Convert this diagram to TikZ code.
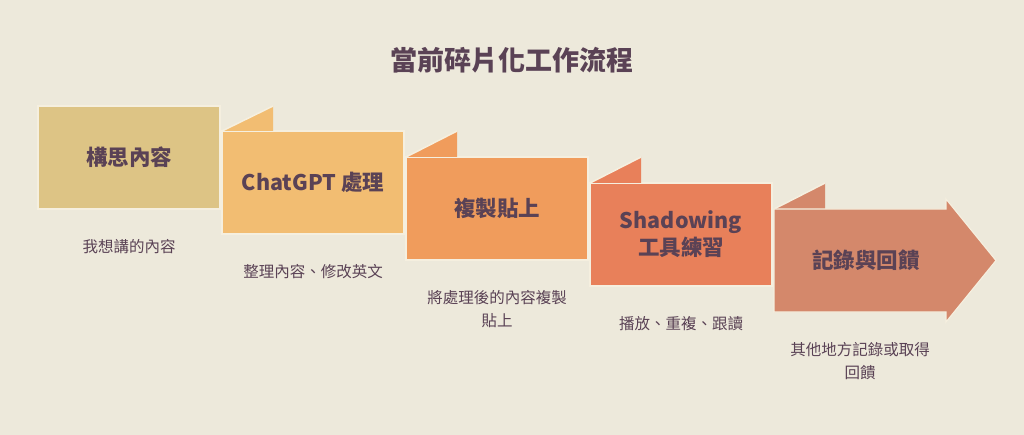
\documentclass[tikz,border=0pt]{standalone}
\usepackage{fontspec}
\setmainfont{Noto Sans CJK TC}
\usetikzlibrary{positioning}
\definecolor{bgcol}{HTML}{EDE9DB}
\definecolor{ink}{HTML}{5A4255}
\definecolor{edgecol}{HTML}{F5EFDF}
\definecolor{cidea}{HTML}{DDC485}
\definecolor{cgpt}{HTML}{F2BD72}
\definecolor{ccopy}{HTML}{F09C5C}
\definecolor{cshadow}{HTML}{E8805A}
\definecolor{crecord}{HTML}{D4886B}

\begin{document}
\begin{tikzpicture}[x=1pt, y=1pt, node distance=30pt,
    stepbox/.style={minimum width=182pt, minimum height=103pt, inner sep=0pt, outer sep=0pt, draw=edgecol, line width=1.2pt,
        font=\bfseries\fontsize{21.5}{27}\selectfont, text=ink, align=center},
    flapline/.style={draw=edgecol, line width=1.6pt},
    note/.style={inner sep=0pt, font=\fontsize{15.5}{23}\selectfont, text=ink, align=center}]
    \fill[bgcol] (0,0) rectangle (1024,-435);
    \useasboundingbox (0,0) rectangle (1024,-435);

    \node (title) [font=\bfseries\fontsize{27}{30}\selectfont, text=ink] at (512,-60) {當前碎片化工作流程};

    \node (idea) [stepbox, fill=cidea, anchor=north west] at (38,-106) {構思內容};
    \node (gpt) [stepbox, fill=cgpt, below right=25pt and 2pt of idea.north east] {ChatGPT 處理};
    \node (copy) [stepbox, fill=ccopy, below right=26pt and 2pt of gpt.north east] {複製貼上};
    \node (shadow) [stepbox, fill=cshadow, below right=26pt and 2pt of copy.north east] {Shadowing\\工具練習};
    \node (record) [stepbox, draw=none, minimum width=172pt, below right=26pt and 2pt of shadow.north east] {};

    \fill[cgpt] (gpt.north west) -- ++(51,25) -- ++(0,-25) -- cycle;
    \draw[flapline] (gpt.north west) -- ++(51,25);
    \fill[ccopy] (copy.north west) -- ++(51,26) -- ++(0,-26) -- cycle;
    \draw[flapline] (copy.north west) -- ++(51,26);
    \fill[cshadow] (shadow.north west) -- ++(51,26) -- ++(0,-26) -- cycle;
    \draw[flapline] (shadow.north west) -- ++(51,26);
    \fill[crecord] (record.north west) -- ++(51,26) -- ++(0,-26) -- cycle;
    \draw[flapline] (record.north west) -- ++(51,26);

    \draw[fill=crecord, draw=edgecol, line width=1.2pt] (record.north west) -- (record.north east) -- ++(0,10)
        -- ++(50,-61.5) -- ++(-50,-61.5) -- (record.south east) -- (record.south west) -- cycle;
    \node (recordtext) [font=\bfseries\fontsize{21.5}{27}\selectfont, text=ink] at ([xshift=6pt]record.center) {記錄與回饋};

    \node (ideanote) [note, below=30pt of idea] {我想講的內容};
    \node (gptnote) [note, below=30pt of gpt] {整理內容、修改英文};
    \node (copynote) [note, below=30pt of copy] {將處理後的內容複製\\貼上};
    \node (shadownote) [note, below=30pt of shadow] {播放、重複、跟讀};
    \node (recordnote) [note, below=30pt of record] {其他地方記錄或取得\\回饋};
\end{tikzpicture}
\end{document}
